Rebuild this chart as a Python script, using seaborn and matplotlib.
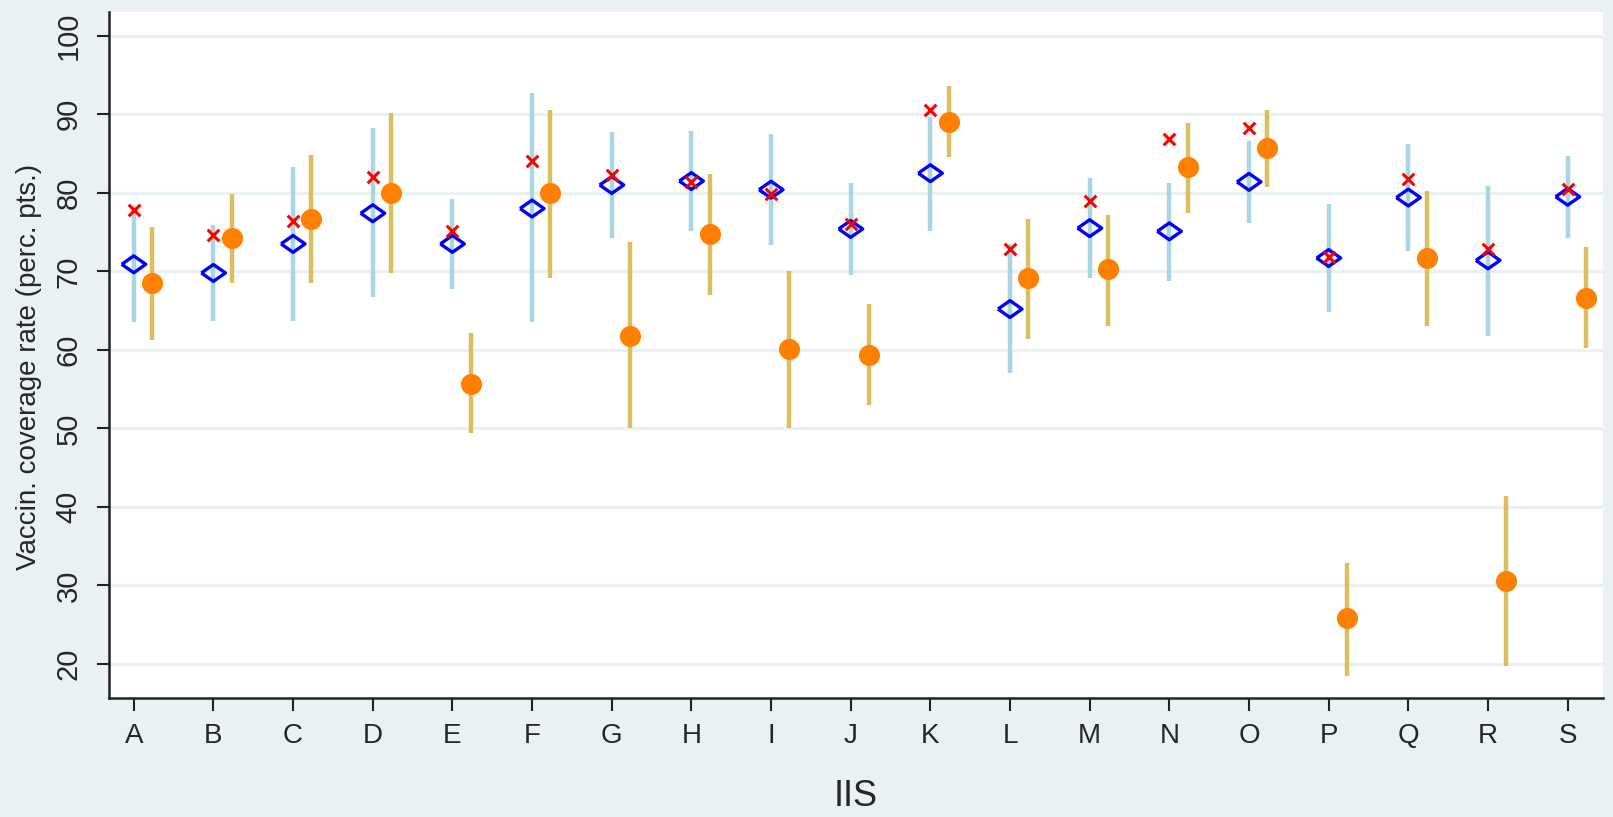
import seaborn as sns
import matplotlib.pyplot as plt
import pandas as pd

# Labels for the 19 immunization information systems.
iis = list("ABCDEFGHIJKLMNOPQRS")

# Blue diamonds with light blue intervals.
blue_est = [70.9, 69.8, 73.5, 77.4, 73.5, 78.0, 81.0, 81.5, 80.4, 75.4,
            82.5, 65.2, 75.5, 75.1, 81.4, 71.7, 79.4, 71.4, 79.5]
blue_lo = [63.5, 63.7, 63.7, 66.7, 67.7, 63.5, 74.3, 75.1, 73.4, 69.6,
           75.1, 57.0, 69.2, 68.8, 76.2, 64.8, 72.6, 61.8, 74.3]
blue_hi = [78.3, 75.9, 83.3, 88.3, 79.2, 92.7, 87.7, 87.9, 87.5, 81.2,
           89.6, 73.5, 81.9, 81.3, 86.6, 78.6, 86.2, 80.9, 84.7]

# Red crosses (no interval).
red_est = [77.8, 74.6, 76.4, 82.0, 75.1, 84.0, 82.3, 81.4, 79.9, 76.0,
           90.6, 72.9, 79.0, 86.9, 88.2, 71.8, 81.7, 72.9, 80.5]

# Orange dots with gold intervals.
orange_est = [68.5, 74.2, 76.7, 80.0, 55.7, 80.0, 61.8, 74.8, 60.1, 59.4,
              89.0, 69.2, 70.3, 83.3, 85.7, 25.8, 71.7, 30.6, 66.6]
orange_lo = [61.2, 68.5, 68.5, 69.8, 49.4, 69.2, 50.0, 67.0, 50.0, 53.0,
             84.6, 61.4, 63.1, 77.4, 80.8, 18.5, 63.1, 19.8, 60.3]
orange_hi = [75.6, 79.9, 84.8, 90.2, 62.1, 90.6, 73.7, 82.4, 70.0, 65.8,
             93.6, 76.7, 77.2, 88.9, 90.6, 32.8, 80.2, 41.4, 73.1]

sns.set_style("ticks")
plt.rcParams['font.family'] = ['Liberation Sans', 'DejaVu Sans']

pos = list(range(1, len(iis) + 1))
shift = 0.23

blue_df = pd.DataFrame({'x': pos, 'y': blue_est, 'lo': blue_lo, 'hi': blue_hi})
red_df = pd.DataFrame({'x': pos, 'y': red_est})
orange_df = pd.DataFrame({'x': [p + shift for p in pos], 'y': orange_est,
                          'lo': orange_lo, 'hi': orange_hi})

fig = plt.figure(figsize=(16.13, 8.17), dpi=100, facecolor='#eaf1f3')
ax = fig.add_axes([0.0676, 0.146, 0.926, 0.839])
ax.set_facecolor('white')

# Gridlines first so marks sit above them.
for g in range(20, 101, 10):
    ax.axhline(g, color='#eaf1f2', lw=2.2, zorder=0)

# Confidence intervals.
ax.vlines(blue_df['x'], blue_df['lo'], blue_df['hi'], color='#a9d6e3', lw=3.2, zorder=1)
ax.vlines(orange_df['x'], orange_df['lo'], orange_df['hi'], color='#dbbd62', lw=3.2, zorder=1)

wide_diamond = [(-1, 0), (0, 0.7), (1, 0), (0, -0.7), (-1, 0)]
sns.scatterplot(data=blue_df, x='x', y='y', marker=wide_diamond, s=300,
                facecolor='none', edgecolor='#0000ff', linewidth=2.4, ax=ax, zorder=3)
sns.scatterplot(data=red_df, x='x', y='y', marker='x', s=70,
                color='#ff0000', linewidth=2.2, ax=ax, zorder=4)
sns.scatterplot(data=orange_df, x='x', y='y', marker='o', s=230,
                color='#ff8000', linewidth=0, ax=ax, zorder=3)

ax.set_xlim(0.69, 19.44)
ax.set_ylim(15.7, 103.0)
ax.set_xticks(pos)
ax.set_xticklabels(iis)
ax.set_yticks(range(20, 101, 10))
ax.tick_params(axis='both', length=9, width=1.5, color='#222222')
ax.tick_params(axis='x', labelsize=20, pad=9)
ax.tick_params(axis='y', labelsize=21, pad=10)
plt.setp(ax.get_yticklabels(), rotation=90, va='center')

for side in ('top', 'right'):
    ax.spines[side].set_visible(False)
for side in ('left', 'bottom'):
    ax.spines[side].set_color('#222222')
    ax.spines[side].set_linewidth(1.8)

ax.set_xlabel('IIS', fontsize=26, labelpad=22)
ax.set_ylabel('Vaccin. coverage rate (perc. pts.)', fontsize=20)
ax.yaxis.set_label_coords(-0.045, 0.482)

plt.savefig('out.png', dpi=100, facecolor=fig.get_facecolor())
